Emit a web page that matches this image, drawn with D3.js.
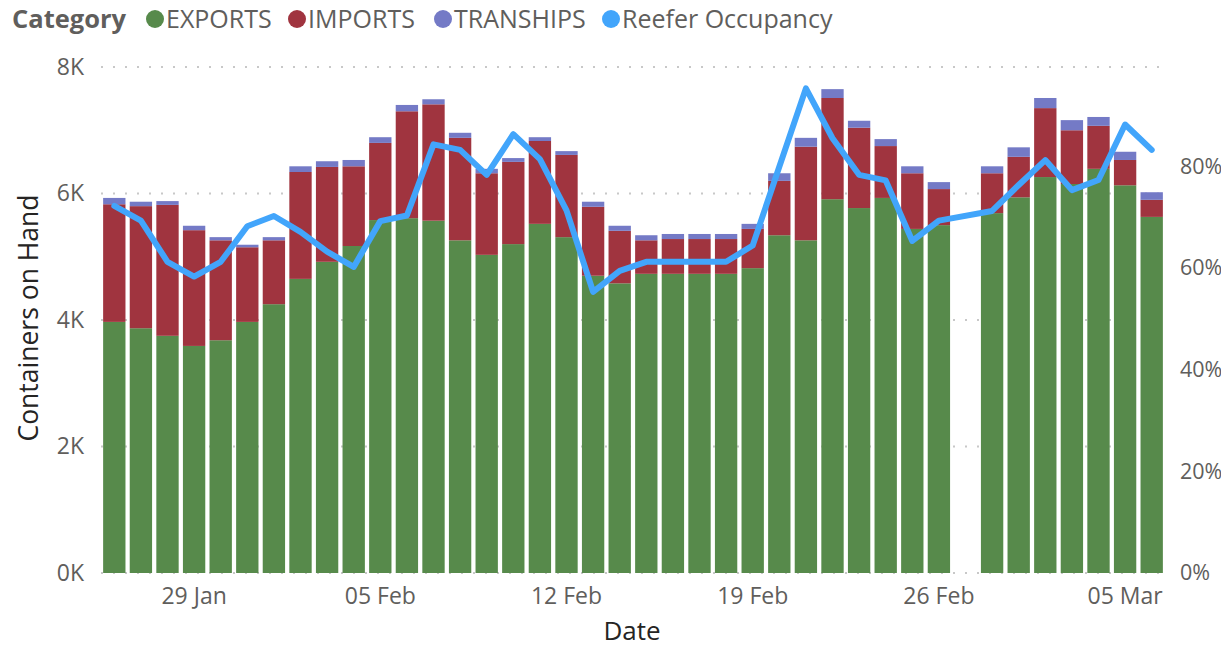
<!DOCTYPE html>
<html lang="en">
<head>
    <meta charset="UTF-8">
    <title>Containers on Hand</title>
    <script src="https://d3js.org/d3.v7.min.js"></script>
    <style>
        body { margin: 0; background: #fff; }
        svg text { font-family: "Open Sans", sans-serif; }
    </style>
</head>
<body>
<svg width="1221" height="649"></svg>

<script>
    // one slot per day, 27 Feb has no data
    const dates = ["2023-01-26","2023-01-27","2023-01-28","2023-01-29","2023-01-30","2023-01-31",
        "2023-02-01","2023-02-02","2023-02-03","2023-02-04","2023-02-05","2023-02-06","2023-02-07",
        "2023-02-08","2023-02-09","2023-02-10","2023-02-11","2023-02-12","2023-02-13","2023-02-14",
        "2023-02-15","2023-02-16","2023-02-17","2023-02-18","2023-02-19","2023-02-20","2023-02-21",
        "2023-02-22","2023-02-23","2023-02-24","2023-02-25","2023-02-26","2023-02-27","2023-02-28",
        "2023-03-01","2023-03-02","2023-03-03","2023-03-04","2023-03-05","2023-03-06"];

    const exportsVals = [3970,3870,3750,3590,3680,3970,4250,4650,4920,5170,5580,5610,5570,
        5260,5030,5200,5520,5310,4700,4580,4730,4730,4730,4730,4820,5340,5260,
        5910,5770,5930,5440,5500,null,5690,5940,6260,6150,6390,6130,5630];
    const importsVals = [1860,1930,2070,1830,1580,1180,1010,1690,1500,1260,1220,1690,1840,
        1620,1290,1300,1310,1300,1090,830,530,550,550,550,620,860,1480,
        1600,1270,820,880,570,null,630,640,1090,850,680,400,270];
    const transhipsVals = [100,70,60,70,50,40,50,90,90,100,90,100,80,
        80,70,60,60,60,80,80,80,80,80,80,80,120,140,
        140,110,110,110,110,null,110,150,160,160,140,130,120];
    const occupancy = [0.722,0.693,0.612,0.583,0.612,0.682,0.702,0.671,0.632,0.602,0.692,0.703,0.843,
        0.832,0.783,0.863,0.814,0.713,0.553,0.594,0.612,0.612,0.612,0.612,0.644,0.799,0.953,
        0.855,0.783,0.772,0.653,0.693,null,0.712,0.763,0.812,0.753,0.773,0.882,0.832];

    const categories = ["EXPORTS","IMPORTS","TRANSHIPS"];
    const colors = {EXPORTS: "#578a4b", IMPORTS: "#a0343f", TRANSHIPS: "#747ac6"};
    const lineColor = "#42a5fb";

    const leftTicks = [0, 2000, 4000, 6000, 8000];
    const rightTicks = [0, 0.2, 0.4, 0.6, 0.8];
    const dateTicks = ["2023-01-29","2023-02-05","2023-02-12","2023-02-19","2023-02-26","2023-03-05"];

    let svg = d3.select("svg");
    const parse = d3.timeParse("%Y-%m-%d");
    const fmt = d3.timeFormat("%d %b");

    // table for the stack
    let rows = dates.map(function (d, i) {
        return {date: d, EXPORTS: exportsVals[i], IMPORTS: importsVals[i],
            TRANSHIPS: transhipsVals[i], occ: occupancy[i]};
    });

    let x = d3.scaleBand()
        .domain(dates)
        .range([101, 1165])
        .paddingInner(0.16)
        .paddingOuter(0.08);

    let y = d3.scaleLinear().domain([0, 8000]).range([573, 67]);
    let y2 = d3.scaleLinear().domain([0, 1]).range([573, 64.5]);

    // gridlines
    svg.append("g").attr("class", "grid")
        .selectAll("line")
        .data(leftTicks)
        .enter()
        .append("line")
        .attr("x1", 101).attr("x2", 1165)
        .attr("y1", d => y(d)).attr("y2", d => y(d))
        .attr("stroke", "#c8c8c8")
        .attr("stroke-width", 2)
        .attr("stroke-dasharray", "2,10");

    // stacked bars
    let stacked = d3.stack().keys(categories)(rows.filter(r => r.EXPORTS != null));
    svg.append("g").attr("class", "bars")
        .selectAll("g")
        .data(stacked)
        .enter()
        .append("g")
        .attr("fill", d => colors[d.key])
        .selectAll("rect")
        .data(d => d)
        .enter()
        .append("rect")
        .attr("x", d => x(d.data.date))
        .attr("width", x.bandwidth())
        .attr("y", d => y(d[1]))
        .attr("height", d => y(d[0]) - y(d[1]));

    // occupancy line, skips the empty day
    let line = d3.line()
        .x(d => x(d.date) + x.bandwidth() / 2)
        .y(d => y2(d.occ));
    svg.append("path")
        .datum(rows.filter(r => r.occ != null))
        .attr("d", line)
        .attr("fill", "none")
        .attr("stroke", lineColor)
        .attr("stroke-width", 6)
        .attr("stroke-linejoin", "round")
        .attr("stroke-linecap", "round");

    // axes
    let leftAxis = d3.axisLeft(y).tickValues(leftTicks)
        .tickFormat(d => (d / 1000) + "K").tickSize(0).tickPadding(0);
    let gl = svg.append("g").attr("transform", "translate(84,0)").call(leftAxis);

    let rightAxis = d3.axisRight(y2).tickValues(rightTicks)
        .tickFormat(d3.format(".0%")).tickSize(0).tickPadding(0);
    let gr = svg.append("g").attr("transform", "translate(1180,0)").call(rightAxis);

    let bottomAxis = d3.axisBottom(x).tickValues(dateTicks)
        .tickFormat(d => fmt(parse(d))).tickSize(0).tickPadding(0);
    let gb = svg.append("g").attr("transform", "translate(0,582)").call(bottomAxis);

    [gl, gr, gb].forEach(function (g) {
        g.select(".domain").remove();
        g.selectAll("text")
            .attr("fill", "#605e5c")
            .style("font-size", "23px");
    });
    gb.selectAll("text").attr("dy", "0.95em");
    // right labels sit at the window edge, keep them inside
    gr.selectAll("text").style("font-size", "21.5px");

    // axis titles
    svg.append("text")
        .attr("x", 632).attr("y", 640)
        .attr("text-anchor", "middle")
        .attr("fill", "#252423")
        .style("font-size", "26px")
        .text("Date");
    svg.append("text")
        .attr("transform", "translate(38,318) rotate(-90)")
        .attr("text-anchor", "middle")
        .attr("fill", "#252423")
        .style("font-size", "26.5px")
        .text("Containers on Hand");

    // legend
    let legend = svg.append("g").attr("class", "legend");
    legend.append("text")
        .attr("x", 12).attr("y", 28)
        .attr("fill", "#605e5c")
        .style("font-size", "25.5px")
        .style("font-weight", "bold")
        .text("Category");

    const legendItems = [
        {name: "EXPORTS", color: colors.EXPORTS, cx: 155},
        {name: "IMPORTS", color: colors.IMPORTS, cx: 297},
        {name: "TRANSHIPS", color: colors.TRANSHIPS, cx: 443},
        {name: "Reefer Occupancy", color: lineColor, cx: 611}
    ];
    let items = legend.selectAll("g.item")
        .data(legendItems)
        .enter()
        .append("g").attr("class", "item");
    items.append("circle")
        .attr("cx", d => d.cx).attr("cy", 19).attr("r", 9)
        .attr("fill", d => d.color);
    items.append("text")
        .attr("x", d => d.cx + 11).attr("y", 28)
        .attr("fill", "#605e5c")
        .style("font-size", "25px")
        .text(d => d.name);
</script>
</body>
</html>
